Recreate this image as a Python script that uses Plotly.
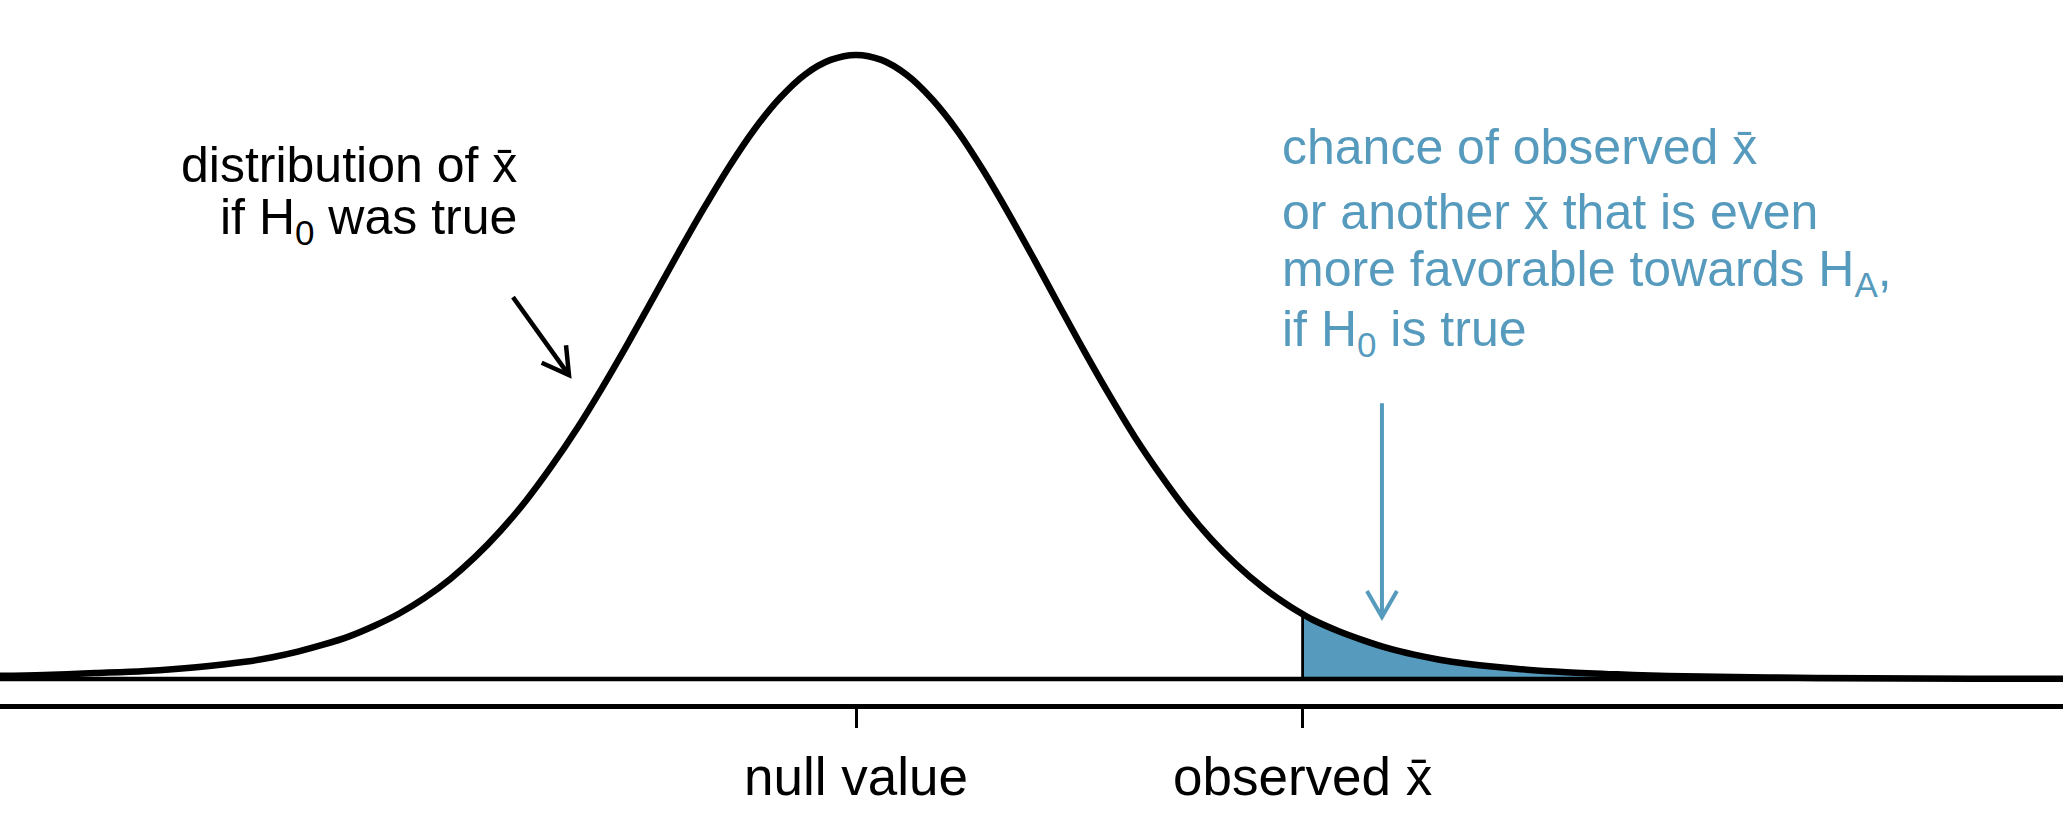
import math
import plotly.graph_objects as go

# ---------------- data ----------------
# x in units of the spread of the null distribution (null value at 0)
x_grid = [-4.25, -4.0, -3.75, -3.5, -3.25, -3.0, -2.875, -2.75, -2.625, -2.5, -2.375, -2.25, -2.125,
          -2.0, -1.875, -1.75, -1.625, -1.5, -1.375, -1.25, -1.125, -1.0, -0.875,
          -0.75, -0.625, -0.5, -0.375, -0.25, -0.125, 0.0,
          0.125, 0.25, 0.375, 0.5, 0.625, 0.75, 0.875, 1.0, 1.125, 1.25, 1.375,
          1.5, 1.625, 1.75, 1.875, 2.0, 2.125, 2.2, 2.25, 2.375, 2.5, 2.625, 2.75,
          2.875, 3.0, 3.25, 3.5, 3.75, 4.0, 4.5, 5.0, 5.5, 6.0]
density = [0.005, 0.0065, 0.0095, 0.013, 0.019, 0.028, 0.035, 0.044, 0.055, 0.068, 0.085, 0.105, 0.130,
           0.160, 0.196, 0.238, 0.286, 0.341, 0.401, 0.467, 0.537, 0.610, 0.683,
           0.754, 0.821, 0.881, 0.931, 0.969, 0.992, 1.0,
           0.992, 0.968, 0.929, 0.878, 0.816, 0.747, 0.674, 0.599, 0.525, 0.454, 0.387,
           0.327, 0.272, 0.224, 0.183, 0.148, 0.119, 0.104, 0.095, 0.077, 0.062, 0.049, 0.039,
           0.031, 0.025, 0.0165, 0.011, 0.0075, 0.005, 0.0025, 0.0012, 0.0006, 0.0003]
null_value = 0.0
observed = 2.2
XBAR = "x\u0304"
tick_vals = [null_value, observed]
tick_text = ["null value", "observed " + XBAR]

left_label = ["distribution of " + XBAR, "if H<sub>0</sub> was true"]
right_label = ["chance of observed " + XBAR, "or another " + XBAR + " that is even",
               "more favorable towards H<sub>A</sub>,", "if H<sub>0</sub> is true"]

# ---------------- layout constants ----------------
W, H = 2063, 825
MB = 121
PH = H - MB
XR = [-4.217, 5.946]
YR = [-0.040, 1.088]
BLUE = "#569BBD"
FONT = "Liberation Sans, Arial, sans-serif"

def to_px(x, y):
    return ((x - XR[0]) / (XR[1] - XR[0]) * W, (YR[1] - y) / (YR[1] - YR[0]) * PH)

def to_data(px, py):
    return (XR[0] + px / W * (XR[1] - XR[0]), YR[1] - py / PH * (YR[1] - YR[0]))

def arrow_xy(tail, tip, head_len=30, ang=30):
    tx, ty = to_px(*tail)
    hx, hy = to_px(*tip)
    dx, dy = hx - tx, hy - ty
    n = math.hypot(dx, dy)
    ux, uy = dx / n, dy / n
    xs, ys = [tail[0], tip[0], None], [tail[1], tip[1], None]
    pts = []
    for s in (1, -1):
        a = math.radians(ang) * s
        rx = ux * math.cos(a) - uy * math.sin(a)
        ry = ux * math.sin(a) + uy * math.cos(a)
        pts.append(to_data(hx - head_len * rx, hy - head_len * ry))
    xs += [pts[0][0], tip[0], pts[1][0]]
    ys += [pts[0][1], tip[1], pts[1][1]]
    return xs, ys

fig = go.Figure()

# shaded tail
xs_sh = [x for x in x_grid if x >= observed]
ys_sh = [d for x, d in zip(x_grid, density) if x >= observed]
fig.add_trace(go.Scatter(x=xs_sh, y=ys_sh, mode="lines", fill="tozeroy",
                         fillcolor=BLUE, line=dict(width=0, color=BLUE, shape="spline"),
                         hoverinfo="skip"))
# baseline
fig.add_trace(go.Scatter(x=[x_grid[0] - 1, x_grid[-1] + 1], y=[0, 0], mode="lines",
                         line=dict(color="black", width=4.5), hoverinfo="skip"))
# observed boundary
fig.add_trace(go.Scatter(x=[observed, observed], y=[0, ys_sh[0]], mode="lines",
                         line=dict(color="black", width=2.8), hoverinfo="skip"))
# curve
fig.add_trace(go.Scatter(x=x_grid, y=density, mode="lines",
                         line=dict(color="black", width=6.5, shape="spline"),
                         hoverinfo="skip"))

# arrows
ax, ay = arrow_xy((-1.690, 0.612), (-1.414, 0.487))
fig.add_trace(go.Scatter(x=ax, y=ay, mode="lines", line=dict(color="black", width=4.5),
                         hoverinfo="skip"))
bx, by = arrow_xy((2.591, 0.442), (2.591, 0.0994))
fig.add_trace(go.Scatter(x=bx, y=by, mode="lines", line=dict(color=BLUE, width=4),
                         hoverinfo="skip"))

# text annotations
left_y = [0.823, 0.735]
for t, y in zip(left_label, left_y):
    fig.add_annotation(x=-1.660, y=y, xref="x", yref="y", text=t, showarrow=False,
                       xanchor="right", yanchor="middle",
                       font=dict(family=FONT, size=50, color="black"))
right_y = [0.853, 0.749, 0.651, 0.555]
for t, y in zip(right_label, right_y):
    fig.add_annotation(x=2.089, y=y, xref="x", yref="y", text=t, showarrow=False,
                       xanchor="left", yanchor="middle",
                       font=dict(family=FONT, size=50, color=BLUE))

fig.update_layout(
    width=W, height=H, showlegend=False,
    margin=dict(l=0, r=0, t=0, b=MB),
    paper_bgcolor="white", plot_bgcolor="white",
    xaxis=dict(range=XR, showgrid=False, zeroline=False, showline=True, linecolor="black",
               linewidth=4.5, ticks="outside", ticklen=19, tickwidth=2.5, tickcolor="black",
               tickvals=tick_vals, ticktext=tick_text, ticklabelstandoff=4,
               tickfont=dict(family=FONT, size=53, color="black")),
    yaxis=dict(range=YR, visible=False, showgrid=False, zeroline=False),
)

fig.write_html("out.html")
